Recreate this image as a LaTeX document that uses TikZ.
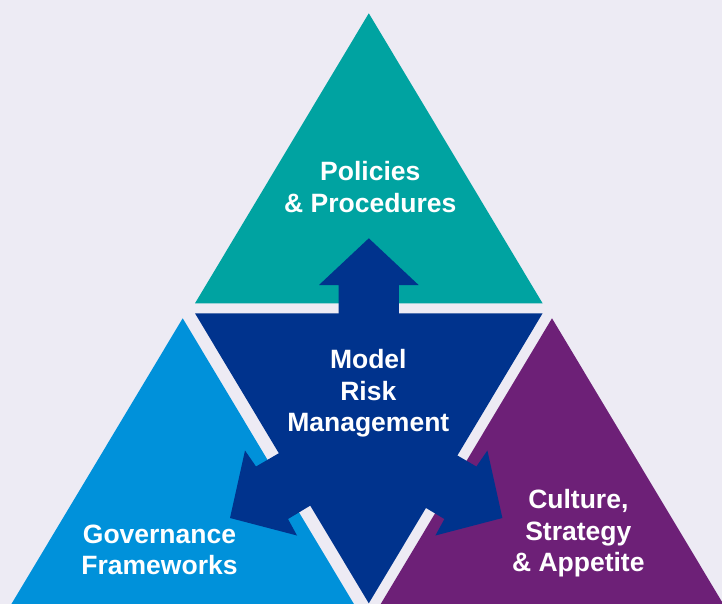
\documentclass[tikz,border=0pt]{standalone}
\usepackage{fontspec}
\setmainfont{Liberation Sans}
\definecolor{bgc}{HTML}{EDEBF4}
\definecolor{tealc}{HTML}{00A3A1}
\definecolor{navyc}{HTML}{00338D}
\definecolor{bluec}{HTML}{0091DA}
\definecolor{purplec}{HTML}{6D2077}
\begin{document}
\begin{tikzpicture}[x=1pt,y=-1pt,
  lbl/.style={text=white, font=\bfseries\fontsize{26.5}{31.7}\selectfont, align=center, inner sep=0pt},
  arrowshape/.style={fill=navyc, draw=none}]
\useasboundingbox (0,0) rectangle (722,604);
\clip (0,0) rectangle (722,604);
\fill[bgc] (0,0) rectangle (722,604);
% triangles
\fill[tealc] (368.8,13.3) -- (195,303.3) -- (542.6,303.3) -- cycle;
\fill[navyc] (195,313.3) -- (542.6,313.3) -- (368.8,603.3) -- cycle;
\fill[bluec] (182.7,318.3) -- (8.85,608.3) -- (356.5,608.3) -- cycle;
\fill[purplec] (552,318.3) -- (378.15,608.3) -- (725.85,608.3) -- cycle;
% arrows
\fill[arrowshape] (338.7,360) -- (338.7,285) -- (319,285) -- (368.8,238.3)
  -- (418.6,285) -- (398.9,285) -- (398.9,360) -- cycle;
\fill[arrowshape] (322.1,428.1) -- (256,466.5) -- (245,450.5) -- (230,518)
  -- (297,535.5) -- (288,519) -- (353.1,479.9) -- cycle;
\fill[arrowshape] (410.3,428.1) -- (476.4,466.5) -- (487.4,450.5) -- (502.4,518)
  -- (435.4,535.5) -- (444.4,519) -- (379.3,479.9) -- cycle;
% labels
\node[lbl] (pol) at (370.3,187.3) {Policies\\\& Procedures};
\node[lbl] (mrm) at (368.3,393.3) {Model\\Risk\\Management};
\node[lbl] (gov) at (159.5,549.9) {Governance\\Frameworks};
\node[lbl] (cul) at (578.3,533.3) {Culture,\\Strategy\\\& Appetite};
\end{tikzpicture}
\end{document}
